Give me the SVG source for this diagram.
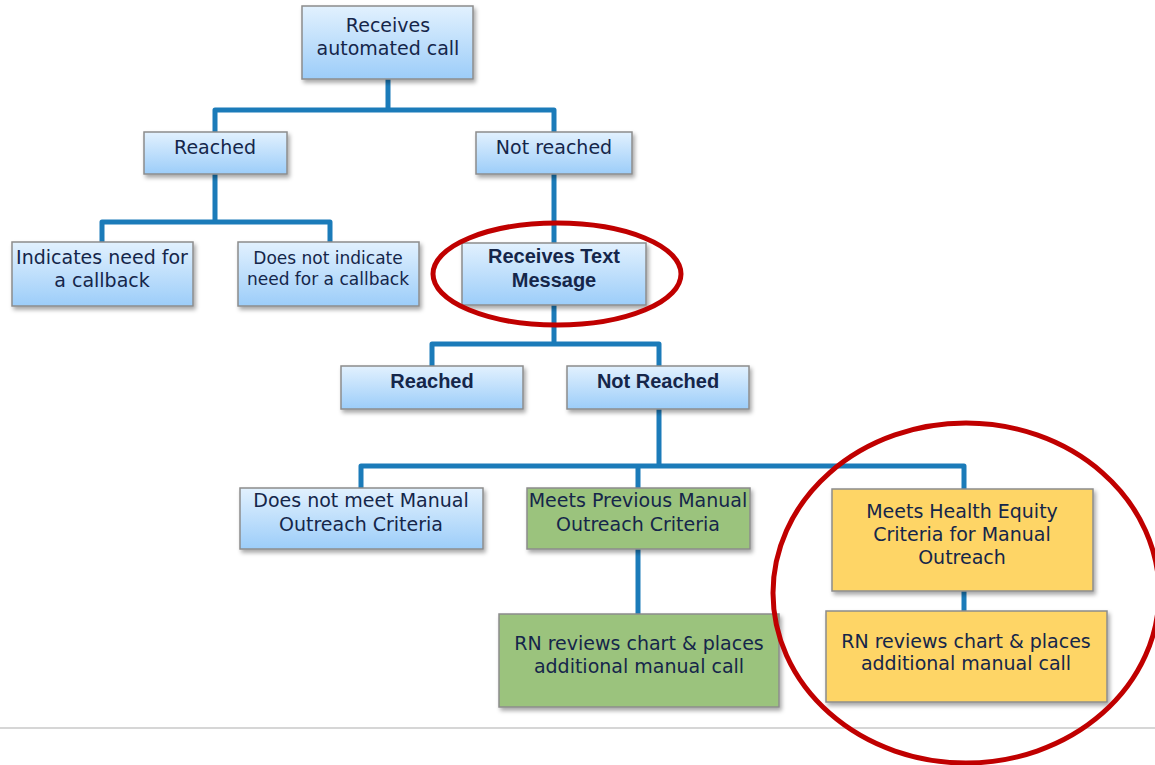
<svg xmlns="http://www.w3.org/2000/svg" width="1155" height="765" viewBox="0 0 1155 765">
  <defs>
    <linearGradient id="blueFill" x1="0" y1="0" x2="0" y2="1">
      <stop offset="0" stop-color="#e2f1fe"/>
      <stop offset="1" stop-color="#9ccdf9"/>
    </linearGradient>
    <filter id="shadow" x="-10%" y="-10%" width="130%" height="140%">
      <feDropShadow dx="2" dy="3" stdDeviation="2" flood-color="#000" flood-opacity="0.35"/>
    </filter>
  </defs>
  <style>
    .box { stroke: #8c8c8c; stroke-width: 1.5; filter: url(#shadow); }
    .blue { fill: url(#blueFill); }
    .green { fill: #9bc37d; }
    .yellow { fill: #fed566; }
    .lbl { font-family: "DejaVu Sans", Verdana, sans-serif; font-size: 19px; fill: #15264a; text-anchor: middle; }
    .small { font-size: 17px; }
    .bold { font-family: "Liberation Sans", Arial, sans-serif; font-weight: bold; font-size: 20px; }
    .link { fill: none; stroke: #1b7bb9; stroke-width: 5; stroke-linejoin: round; }
    .ring { fill: none; stroke: #c00000; stroke-width: 5; }
  </style>

  <rect width="1155" height="765" fill="#ffffff"/>

  <!-- connectors -->
  <g id="connectors">
    <path class="link" d="M388 79 V110 M215 132 V110 H554 V132"/>
    <path class="link" d="M215 174 V222 M102 242 V222 H330 V242"/>
    <path class="link" d="M554 174 V243"/>
    <path class="link" d="M554 305 V344 M432 366 V344 H659 V366"/>
    <path class="link" d="M659 409 V466 M361 488 V466 H964 V489 M638 466 V488"/>
    <path class="link" d="M638 549 V614"/>
    <path class="link" d="M964 591 V611"/>
  </g>

  <g id="n-auto-call">
    <rect class="box blue" x="302" y="6" width="171" height="73"/>
    <text class="lbl" x="388" y="32">Receives</text>
    <text class="lbl" x="388" y="55">automated call</text>
  </g>
  <g id="n-reached-1">
    <rect class="box blue" x="144" y="132" width="143" height="42"/>
    <text class="lbl" x="215" y="154">Reached</text>
  </g>
  <g id="n-not-reached-1">
    <rect class="box blue" x="476" y="132" width="156" height="42"/>
    <text class="lbl" x="554" y="154">Not reached</text>
  </g>
  <g id="n-callback-yes">
    <rect class="box blue" x="12" y="242" width="181" height="64"/>
    <text class="lbl" x="102" y="264">Indicates need for</text>
    <text class="lbl" x="102" y="287">a callback</text>
  </g>
  <g id="n-callback-no">
    <rect class="box blue" x="238" y="242" width="181" height="64"/>
    <text class="lbl small" x="328" y="264">Does not indicate</text>
    <text class="lbl small" x="328" y="285">need for a callback</text>
  </g>
  <g id="n-text-message">
    <rect class="box blue" x="462" y="243" width="184" height="62"/>
    <text class="lbl bold" x="554" y="263">Receives Text</text>
    <text class="lbl bold" x="554" y="287">Message</text>
  </g>
  <g id="n-reached-2">
    <rect class="box blue" x="341" y="366" width="182" height="43"/>
    <text class="lbl bold" x="432" y="388">Reached</text>
  </g>
  <g id="n-not-reached-2">
    <rect class="box blue" x="567" y="366" width="182" height="43"/>
    <text class="lbl bold" x="658" y="388">Not Reached</text>
  </g>
  <g id="n-not-meet">
    <rect class="box blue" x="240" y="488" width="243" height="61"/>
    <text class="lbl" x="361" y="507">Does not meet Manual</text>
    <text class="lbl" x="361" y="531">Outreach Criteria</text>
  </g>
  <g id="n-meets-previous">
    <rect class="box green" x="527" y="488" width="223" height="61"/>
    <text class="lbl" x="638" y="507">Meets Previous Manual</text>
    <text class="lbl" x="638" y="531">Outreach Criteria</text>
  </g>
  <g id="n-health-equity">
    <rect class="box yellow" x="832" y="489" width="261" height="102"/>
    <text class="lbl" x="962" y="518">Meets Health Equity</text>
    <text class="lbl" x="962" y="541">Criteria for Manual</text>
    <text class="lbl" x="962" y="564">Outreach</text>
  </g>
  <g id="n-rn-call-green">
    <rect class="box green" x="499" y="614" width="280" height="93"/>
    <text class="lbl" x="639" y="650">RN reviews chart &amp; places</text>
    <text class="lbl" x="639" y="673">additional manual call</text>
  </g>
  <g id="n-rn-call-yellow">
    <rect class="box yellow" x="826" y="611" width="281" height="91"/>
    <text class="lbl" x="966" y="648">RN reviews chart &amp; places</text>
    <text class="lbl" x="966" y="670">additional manual call</text>
  </g>

  <!-- footer rule -->
  <line x1="0" y1="728" x2="1155" y2="728" stroke="#c9c9c9" stroke-width="1.5"/>

  <!-- highlight rings -->
  <g id="highlights">
    <ellipse class="ring" cx="557" cy="274" rx="124" ry="51"/>
    <ellipse class="ring" cx="966" cy="593" rx="193" ry="170"/>
  </g>
</svg>
